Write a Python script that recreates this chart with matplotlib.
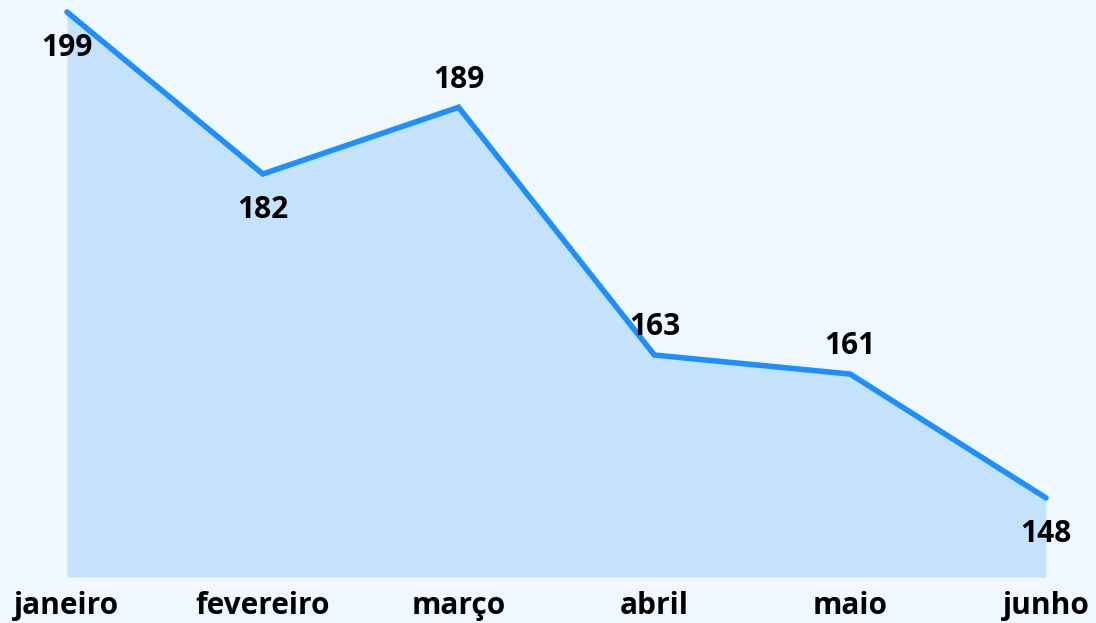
import matplotlib
matplotlib.use("Agg")
import matplotlib.pyplot as plt

months = ["janeiro", "fevereiro", "março", "abril", "maio", "junho"]
values = [199, 182, 189, 163, 161, 148]
label_pos = ["below", "below", "above", "above", "above", "below"]

plt.rcParams['font.family'] = ['Open Sans', 'DejaVu Sans']

bg = "#EFF7FF"
fig = plt.figure(figsize=(10.96, 6.23), dpi=100, facecolor=bg)
ax = fig.add_axes([67 / 1096, 46 / 623, (1046 - 67) / 1096, 565 / 623])
ax.set_facecolor(bg)

x = list(range(len(months)))
ymin = 139.7
ax.fill_between(x, values, ymin, color="#C5E2FD", linewidth=0)
ax.plot(x, values, color="#1E8FFF", linewidth=4, solid_capstyle="round",
        solid_joinstyle="miter", clip_on=False, zorder=3)

for xi, v, pos in zip(x, values, label_pos):
    dy = -26 if pos == "below" else 20
    ax.annotate(str(v), (xi, v), xytext=(0, dy), textcoords="offset points",
                ha="center", va="center", fontsize=21.5, fontweight="bold",
                color="black", zorder=4)

ax.set_xlim(0, len(months) - 1)
ax.set_ylim(ymin, 199)
ax.set_xticks(x)
ax.set_xticklabels(months, fontsize=21.5, fontweight="bold")
ax.tick_params(axis="x", length=0, pad=10)
ax.set_yticks([])
for s in ax.spines.values():
    s.set_visible(False)

fig.savefig("out.png", dpi=100, facecolor=bg)
